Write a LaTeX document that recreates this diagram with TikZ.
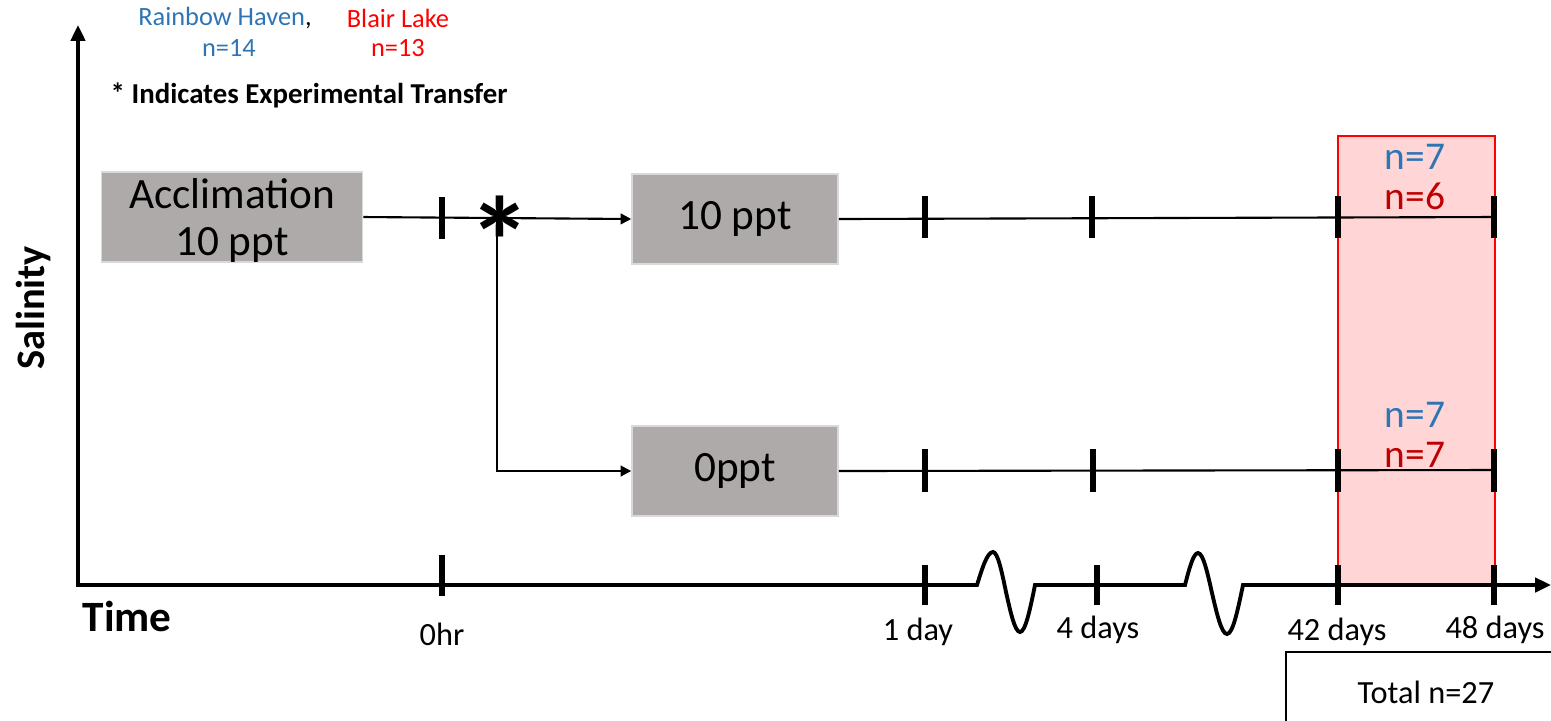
\documentclass[tikz,border=0pt]{standalone}
\usepackage{fontspec}
\setmainfont{Carlito}
\usetikzlibrary{arrows.meta}
\definecolor{rhblue}{HTML}{2E75B6}
\definecolor{blred}{HTML}{FF0000}
\definecolor{nred}{HTML}{C00000}
\definecolor{stagegray}{HTML}{AEAAAA}
\definecolor{stageedge}{HTML}{D9D9D9}
\definecolor{windowpink}{HTML}{FFD5D5}

\begin{document}
\begin{tikzpicture}[x=0.01cm, y=-0.01cm,
  stage/.style={draw=stageedge, fill=stagegray, inner sep=0pt,
                minimum width=2.06cm, minimum height=0.9cm, align=center,
                font=\fontsize{12.3}{13.4}\selectfont},
  flow/.style={line width=0.6pt, -{Triangle[length=3pt, width=3pt]}},
  track/.style={line width=0.6pt},
  axis/.style={line width=1.1pt},
  tickmark/.style={line width=1.7pt},
  ticklabel/.style={font=\fontsize{9.2}{11}\selectfont},
  count/.style={font=\fontsize{11.2}{13}\selectfont},
  title/.style={inner sep=0pt, font=\fontsize{12.3}{14}\selectfont\bfseries},
  group/.style={font=\fontsize{7.5}{9}\selectfont},
]
\useasboundingbox (0,0) rectangle (1551,720);

% sampling window
\node[draw=blred, line width=0.5pt, fill=windowpink, inner sep=0pt,
      minimum width=1.57cm, minimum height=4.48cm, anchor=north west]
  (window) at (1337,135) {};

% header
\node[group] (rh) at (225,18) {\textcolor{rhblue}{Rainbow Haven},};
\node[group, text=blred] (bl) at (398,18) {Blair Lake};
\node[group, text=rhblue] (rhn) at (229,48) {n=14};
\node[group, text=blred] (bln) at (398,48) {n=13};
\node[inner sep=0pt, font=\fontsize{8.2}{10}\selectfont\bfseries, anchor=west]
  (note) at (110,95) {* Indicates Experimental Transfer};

% axes
\coordinate (origin) at (78,585);
\coordinate (ytop) at (78,25);
\coordinate (xend) at (1551,585);
\draw[axis, {Triangle[length=4.5pt, width=4pt]}-{Triangle[length=4.5pt, width=4pt]}]
  (ytop) -- (origin) -- (977,585)
  sin (993,552) cos (1006,592) sin (1020,632) cos (1035,585)
  -- (1185,585)
  sin (1198,553) cos (1212,593) sin (1227,634) cos (1243,585)
  -- (xend);
\node[title, rotate=90, font=\fontsize{11.5}{13}\selectfont\bfseries]
  (salinity) at (33,308) {Salinity};
\node[title, anchor=west] (time) at (82,616) {Time};

% stages
\node[stage, minimum width=2.61cm, text depth=0pt] (accl) at (232,217)
  {Acclimation\\10 ppt};
\node[stage] (ten) at (735,219) {10 ppt};
\node[stage] (zero) at (735,471) {0ppt};

\coordinate (split) at (497,217);
\coordinate (tenend) at (1494,217);
\coordinate (zeroend) at (1494,470);
\draw[flow] (accl.east) -- (ten.west);
\draw[flow] (split) |- (zero.west);
\draw[track] (ten.east) -- (tenend);
\draw[track] (zero.east) -- (zeroend);
\node[inner sep=0pt, font=\fontsize{36}{36}\selectfont\bfseries, yshift=-7pt]
  (transfer) at (500,217) {*};

% ticks
\draw[tickmark] (442,197) -- (442,239);
\foreach \x in {925,1092,1338,1494}
  \draw[tickmark] (\x,196) -- (\x,238);
\foreach \x in {925,1093,1338,1494}
  \draw[tickmark] (\x,449) -- (\x,492);
\draw[tickmark] (442,555) -- (442,596);
\foreach \x in {925,1097,1338,1494}
  \draw[tickmark] (\x,565) -- (\x,605);

% time labels
\node[ticklabel] (t0) at (442,634) {0hr};
\node[ticklabel] (t1) at (918,632) {1 day};
\node[ticklabel] (t4) at (1098,630) {4 days};
\node[ticklabel] (t42) at (1337,632) {42 days};
\node[ticklabel] (t48) at (1495,630) {48 days};

% counts
\node[count, text=rhblue] (tenrh) at (1415,157) {n=7};
\node[count, text=nred] (tenbl) at (1415,196) {n=6};
\node[count, text=rhblue] (zerorh) at (1415,415) {n=7};
\node[count, text=nred] (zerobl) at (1415,455) {n=7};

\node[draw, line width=0.5pt, inner sep=0pt, minimum width=2.8cm,
      minimum height=0.8cm, anchor=north west, ticklabel]
  (total) at (1285,651) {Total n=27};

\end{tikzpicture}
\end{document}
